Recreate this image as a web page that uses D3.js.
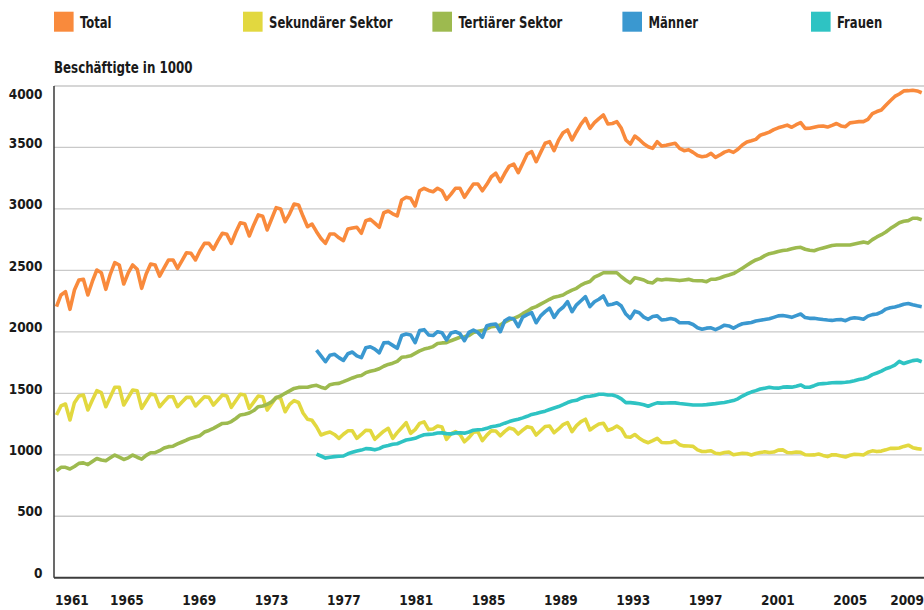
<!DOCTYPE html>
<html><head><meta charset="utf-8">
<script src="https://cdn.jsdelivr.net/npm/d3@7"></script>
<style>body{margin:0;background:#fff}svg{display:block}</style>
</head><body><svg id="c" width="924" height="610"></svg>
<script>
const seriesNames = ["Total", "Sekundärer Sektor", "Tertiärer Sektor", "Männer", "Frauen"];
const seriesColors = ["#F98A3C", "#E2D83F", "#9DBA4F", "#3A98D0", "#2EC3C3"];
const yTicks = [0, 500, 1000, 1500, 2000, 2500, 3000, 3500, 4000];
const yearLabels = [1961, 1965, 1969, 1973, 1977, 1981, 1985, 1989, 1993, 1997, 2001, 2005, 2009];
const yTitle = "Beschäftigte in 1000";

// quarterly values, index 0 .. 193
const total = [2205,2300,2327,2183,2340,2422,2427,2300,2410,2503,
 2481,2346,2470,2563,2544,2389,2480,2544,2509,2354,
 2470,2552,2544,2454,2520,2585,2585,2517,2580,2644,
 2639,2585,2660,2720,2720,2671,2740,2802,2793,2720,
 2810,2888,2880,2780,2870,2951,2940,2829,2920,3010,
 3000,2896,2960,3040,3032,2940,2855,2877,2815,2760,
 2720,2796,2796,2765,2742,2837,2845,2851,2802,2904,
 2916,2885,2851,2969,2983,2960,2943,3073,3095,3086,
 3024,3148,3168,3150,3140,3168,3148,3078,3120,3168,
 3168,3095,3150,3203,3203,3148,3200,3262,3290,3222,
 3290,3349,3365,3295,3370,3447,3466,3384,3460,3534,
 3547,3474,3560,3620,3642,3561,3628,3690,3737,3656,
 3702,3735,3764,3691,3695,3710,3656,3561,3528,3593,
 3565,3530,3506,3493,3547,3512,3518,3527,3534,3493,
 3474,3482,3460,3435,3425,3430,3452,3420,3439,3462,
 3474,3460,3485,3520,3545,3555,3566,3600,3612,3625,
 3645,3660,3670,3682,3664,3685,3702,3655,3656,3664,
 3672,3675,3666,3680,3695,3675,3669,3700,3705,3710,
 3710,3729,3775,3792,3805,3843,3880,3915,3935,3960,
 3962,3966,3960,3945];

const sekundaer = [1324,1397,1413,1283,1424,1478,1486,1364,1445,1521,
 1505,1391,1470,1549,1549,1405,1466,1527,1521,1378,
 1436,1494,1486,1391,1432,1472,1472,1391,1430,1467,
 1467,1397,1436,1472,1467,1405,1446,1486,1478,1386,
 1440,1492,1486,1378,1428,1478,1472,1364,1416,1467,
 1459,1350,1410,1440,1425,1340,1289,1280,1228,1161,
 1175,1185,1165,1134,1167,1195,1195,1134,1165,1200,
 1198,1126,1160,1192,1215,1134,1180,1220,1261,1175,
 1205,1255,1268,1205,1210,1234,1225,1126,1170,1188,
 1166,1106,1140,1183,1187,1115,1160,1195,1194,1155,
 1190,1218,1208,1169,1200,1228,1220,1161,1195,1230,
 1234,1180,1210,1245,1262,1188,1237,1270,1289,1202,
 1228,1250,1256,1198,1212,1234,1210,1147,1142,1165,
 1135,1112,1098,1115,1134,1100,1098,1100,1112,1082,
 1072,1071,1068,1040,1027,1028,1033,1012,1008,1018,
 1022,1000,1006,1012,1010,998,1010,1018,1024,1018,
 1022,1038,1040,1018,1017,1022,1020,1000,998,999,
 1006,995,985,1000,999,990,982,996,1004,1002,
 998,1020,1032,1026,1030,1040,1052,1052,1055,1068,
 1078,1058,1050,1045];

const tertiaer = [870,898,898,884,905,930,934,920,945,970,
 958,952,975,998,980,962,975,998,980,965,
 995,1017,1017,1033,1055,1066,1070,1088,1104,1120,
 1135,1145,1155,1185,1198,1215,1235,1255,1256,1270,
 1295,1324,1330,1340,1360,1391,1397,1410,1430,1465,
 1478,1500,1520,1540,1548,1549,1549,1560,1565,1550,
 1540,1570,1578,1581,1595,1610,1625,1638,1645,1668,
 1680,1688,1700,1720,1735,1745,1760,1793,1798,1805,
 1825,1845,1860,1868,1880,1905,1910,1912,1928,1942,
 1956,1960,1970,1995,2005,2010,2025,2042,2046,2055,
 2080,2098,2110,2125,2148,2168,2192,2205,2225,2245,
 2265,2282,2290,2300,2322,2340,2354,2380,2398,2410,
 2445,2462,2481,2481,2481,2481,2448,2420,2398,2440,
 2432,2422,2403,2398,2428,2422,2428,2425,2422,2417,
 2422,2427,2418,2416,2416,2408,2428,2428,2438,2452,
 2462,2474,2495,2518,2542,2565,2585,2598,2620,2636,
 2643,2654,2662,2666,2676,2684,2688,2672,2664,2660,
 2673,2683,2693,2703,2707,2707,2707,2707,2715,2723,
 2730,2722,2750,2772,2790,2812,2840,2864,2888,2900,
 2905,2924,2924,2912];

// Männer / Frauen start at quarter index 58
const genderStart = 58;
const maenner = [1852,1805,1757,1810,1818,1790,1768,1822,1836,1805,
 1790,1870,1879,1860,1830,1910,1914,1890,1866,1970,
 1983,1975,1912,2010,2018,1975,1970,2001,1993,1934,
 1990,2001,1985,1928,1995,2014,1995,1956,2050,2060,
 2064,2001,2090,2112,2105,2042,2120,2140,2156,2074,
 2130,2164,2192,2118,2170,2200,2245,2164,2220,2253,
 2286,2205,2245,2265,2292,2218,2225,2237,2210,2145,
 2110,2168,2155,2120,2102,2125,2130,2096,2100,2108,
 2100,2074,2074,2074,2060,2033,2021,2030,2033,2018,
 2035,2054,2048,2030,2050,2066,2071,2076,2088,2094,
 2100,2106,2118,2130,2133,2127,2118,2132,2145,2116,
 2110,2110,2105,2100,2096,2093,2098,2100,2091,2108,
 2115,2110,2103,2128,2140,2145,2160,2185,2196,2203,
 2212,2225,2230,2220,2212,2205];

const frauen = [1006,990,973,980,985,988,990,1008,1020,1030,
 1038,1050,1048,1040,1050,1068,1075,1085,1090,1105,
 1120,1127,1134,1150,1163,1166,1169,1177,1178,1172,
 1170,1178,1179,1176,1185,1200,1204,1206,1215,1228,
 1234,1243,1257,1270,1280,1289,1300,1313,1328,1336,
 1346,1355,1368,1381,1392,1408,1425,1437,1443,1460,
 1472,1476,1482,1492,1492,1486,1486,1475,1455,1424,
 1424,1420,1415,1407,1395,1410,1422,1420,1421,1423,
 1422,1417,1413,1409,1405,1405,1405,1408,1412,1416,
 1421,1426,1433,1441,1455,1478,1496,1510,1522,1535,
 1542,1549,1543,1542,1550,1552,1550,1558,1568,1549,
 1549,1562,1576,1579,1582,1586,1587,1587,1590,1594,
 1603,1613,1619,1630,1652,1665,1680,1700,1712,1730,
 1760,1742,1755,1766,1771,1757];

const svg = d3.select("#c");
const FONT_TXT = "'DejaVu Sans Condensed','Liberation Sans Narrow',sans-serif";
const FONT_NUM = "'DejaVu Sans Condensed','Liberation Sans Narrow',sans-serif";

const plotL = 54, plotR = 924;
const x = d3.scaleLinear().domain([0, total.length - 1]).range([56.5, 921.7]);
const xYear = d3.scaleLinear().domain([1961, 2009]).range([54.6, 922.6]);
const y = d3.scaleLinear().domain([0, 4000]).range([577.7, 86]);

// gridlines
svg.append("g").selectAll("line").data(yTicks.filter(t => t > 0)).join("line")
  .attr("x1", plotL).attr("x2", plotR)
  .attr("y1", d => y(d)).attr("y2", d => y(d))
  .attr("stroke", "#c9c9c9").attr("stroke-width", 1.3);

// y labels
svg.append("g").selectAll("text").data(yTicks).join("text")
  .attr("x", 42.5)
  .attr("y", d => d === 4000 ? y(d) + 8 : y(d) - 4.5)
  .attr("dy", "0.35em")
  .attr("text-anchor", "end")
  .attr("font-family", FONT_NUM).attr("font-weight", "bold").attr("font-size", 13.5)
  .attr("fill", "#1a1a1a")
  .text(d => d);

// y axis line
svg.append("line").attr("x1", plotL).attr("x2", plotL).attr("y1", y(4000)).attr("y2", y(0))
  .attr("stroke", "#2b2b2b").attr("stroke-width", 1.4);

// series lines
const line = d3.line().x(d => x(d[0])).y(d => y(d[1])).curve(d3.curveLinear);
const seriesData = [
  total.map((v, i) => [i, v]),
  sekundaer.map((v, i) => [i, v]),
  tertiaer.map((v, i) => [i, v]),
  maenner.map((v, i) => [i + genderStart, v]),
  frauen.map((v, i) => [i + genderStart, v])
];
svg.append("g").selectAll("path").data(seriesData).join("path")
  .attr("d", d => line(d))
  .attr("fill", "none")
  .attr("stroke", (d, i) => seriesColors[i])
  .attr("stroke-width", 3.6)
  .attr("stroke-linejoin", "round")
  .attr("stroke-linecap", "butt");

// baseline
svg.append("line").attr("x1", plotL).attr("x2", plotR).attr("y1", y(0)).attr("y2", y(0))
  .attr("stroke", "#3c3c3c").attr("stroke-width", 2);

// x labels
svg.append("g").selectAll("text").data(yearLabels).join("text")
  .attr("x", (d, i) => i === 0 ? 55 : (i === yearLabels.length - 1 ? 924 : xYear(d)))
  .attr("y", 600)
  .attr("dy", "0.35em")
  .attr("text-anchor", (d, i) => i === 0 ? "start" : (i === yearLabels.length - 1 ? "end" : "middle"))
  .attr("font-family", FONT_NUM).attr("font-weight", "bold").attr("font-size", 13.5)
  .attr("fill", "#1a1a1a")
  .text(d => d);

// y title
svg.append("text").attr("transform", "translate(54,73) scale(0.88,1)")
  .attr("font-family", FONT_TXT).attr("font-weight", "bold").attr("font-size", 15)
  .attr("fill", "#1a1a1a").text(yTitle);

// legend
const legendX = [54, 243, 432.4, 622.4, 811];
const lg = svg.append("g").selectAll("g").data(seriesNames).join("g")
  .attr("transform", (d, i) => `translate(${legendX[i]},0)`);
lg.append("rect").attr("x", 0).attr("y", 11.7).attr("width", 19.6).attr("height", 20)
  .attr("fill", (d, i) => seriesColors[i]);
lg.append("text").attr("transform", "translate(26,28) scale(0.835,1)")
  .attr("font-family", FONT_TXT).attr("font-weight", "bold").attr("font-size", 15.5)
  .attr("fill", "#1a1a1a").text(d => d);
</script></body></html>
